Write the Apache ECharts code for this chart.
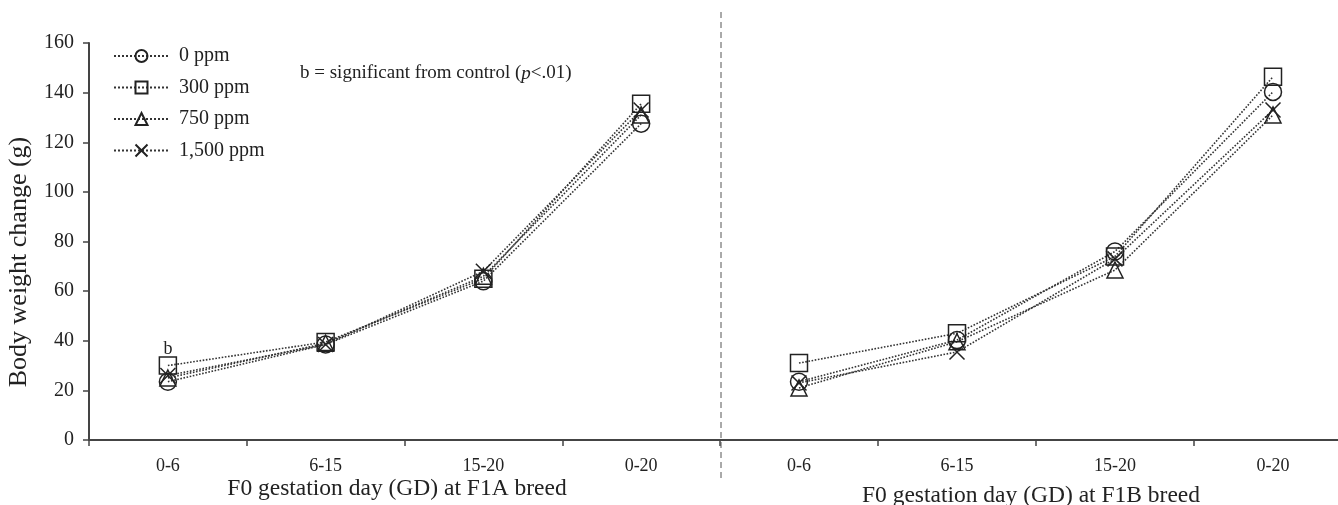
<!DOCTYPE html>
<html>
<head>
<meta charset="utf-8">
<script src="https://cdn.jsdelivr.net/npm/echarts@6/dist/echarts.min.js"></script>
<style>
  html, body { margin: 0; padding: 0; background: #fff; overflow: hidden; }
  #chart { width: 1338px; height: 505px; }
</style>
</head>
<body>
<div id="chart"></div>
<script>
// Gestation intervals (days)
const periods = ['0-6', '6-15', '15-20', '0-20'];
const yTicks = [0, 20, 40, 60, 80, 100, 120, 140, 160];

// Dose groups
const doses = ['0 ppm', '300 ppm', '750 ppm', '1,500 ppm'];

// Body weight change (g), F1A breeding
const f1a_0 = [23.5, 38.5, 64, 127.5];
const f1a_300 = [30, 39.5, 65, 135.5];
const f1a_750 = [25, 39, 66, 131];
const f1a_1500 = [26, 38.5, 68, 133];

// Body weight change (g), F1B breeding
const f1b_0 = [23.5, 40.3, 76, 140.3];
const f1b_300 = [31, 43, 74, 146.4];
const f1b_750 = [21, 39.6, 68.5, 131];
const f1b_1500 = [23, 35.5, 73, 133];

// Axis titles
const xTitles = ['F0 gestation day (GD) at F1A breed', 'F0 gestation day (GD) at F1B breed'];
const yTitle = 'Body weight change (g)';

const symbols = ['circle', 'rect', 'triangle', 'path://M0,0L10,10M10,0L0,10'];
const symbolSizes = [17, 17, 16, 15];

const serif = '"Liberation Serif", "DejaVu Serif", serif';
const ink = '#222';

function makeSeries(name, data, idx, axisIdx, withMark) {
  return {
    name: name,
    type: 'line',
    xAxisIndex: axisIdx,
    yAxisIndex: axisIdx,
    data: data.map((v, i) => {
      if (withMark && i === 0) {
        return {
          value: v,
          label: { show: true, position: 'top', distance: -2, formatter: 'b',
                   fontFamily: serif, fontSize: 18, color: ink }
        };
      }
      return v;
    }),
    symbol: symbols[idx],
    symbolSize: symbolSizes[idx],
    showAllSymbol: true,
    lineStyle: { type: 'dotted', width: 1.6, color: '#333' },
    itemStyle: { color: 'rgba(0,0,0,0)', borderColor: ink, borderWidth: 1.5 },
    emphasis: { disabled: true },
    z: 3
  };
}

const leftSets = [f1a_0, f1a_300, f1a_750, f1a_1500];
const rightSets = [f1b_0, f1b_300, f1b_750, f1b_1500];
const series = [];
doses.forEach((d, i) => series.push(makeSeries(d, leftSets[i], i, 0, i === 1)));
doses.forEach((d, i) => series.push(makeSeries(d, rightSets[i], i, 1, false)));

const axisLineStyle = { color: '#444', width: 2 };

const chart = echarts.init(document.getElementById('chart'), null, { renderer: 'canvas' });
chart.setOption({
  animation: false,
  backgroundColor: '#fff',
  grid: [
    { left: 89, top: 43, width: 631, height: 397, containLabel: false, outerBoundsMode: 'none' },
    { left: 720, top: 43, width: 632, height: 397, containLabel: false, outerBoundsMode: 'none' }
  ],
  legend: {
    orient: 'vertical',
    left: 113,
    top: 46,
    padding: 0,
    itemWidth: 55,
    itemHeight: 15,
    itemGap: 11.5,
    data: doses,
    textStyle: { fontFamily: serif, fontSize: 20, color: ink, padding: [0, 0, 0, 5] },
    selectedMode: false
  },
  xAxis: [0, 1].map(k => ({
    type: 'category',
    gridIndex: k,
    data: periods,
    boundaryGap: true,
    axisLine: { lineStyle: axisLineStyle },
    axisTick: { show: true, length: 6, lineStyle: { color: '#444', width: 1.5 } },
    axisLabel: { fontFamily: serif, fontSize: 18, color: ink, margin: 17 },
    splitLine: { show: false }
  })),
  yAxis: [0, 1].map(k => ({
    type: 'value',
    gridIndex: k,
    min: yTicks[0],
    max: yTicks[yTicks.length - 1],
    interval: 20,
    show: k === 0,
    axisLine: { show: true, lineStyle: axisLineStyle },
    axisTick: { show: true, inside: false, length: 6, lineStyle: { color: '#444', width: 1.5 } },
    axisLabel: { fontFamily: serif, fontSize: 20, color: ink, margin: 15 },
    splitLine: { show: false }
  })),
  graphic: [
    {
      type: 'line',
      shape: { x1: 721, y1: 12, x2: 721, y2: 482 },
      style: { stroke: '#555', lineWidth: 1, lineDash: [6, 4] },
      z: 1
    },
    {
      type: 'text',
      x: 19,
      y: 262,
      rotation: Math.PI / 2,
      style: {
        text: yTitle, fontFamily: serif, fontSize: 26, fill: ink,
        align: 'center', verticalAlign: 'middle'
      }
    },
    {
      type: 'text',
      x: 397,
      y: 489,
      style: {
        text: xTitles[0], fontFamily: serif, fontSize: 23.5, fill: ink,
        align: 'center', verticalAlign: 'middle'
      }
    },
    {
      type: 'text',
      x: 1031,
      y: 496,
      style: {
        text: xTitles[1], fontFamily: serif, fontSize: 23.5, fill: ink,
        align: 'center', verticalAlign: 'middle'
      }
    },
    {
      type: 'text',
      left: 300,
      top: 64,
      style: {
        text: '{n|b = significant from control (}{i|p}{n|<.01)}',
        rich: {
          n: { fontFamily: serif, fontSize: 19, fill: ink },
          i: { fontFamily: serif, fontSize: 19, fontStyle: 'italic', fill: ink }
        }
      }
    }
  ],
  series: series
});
</script>
</body>
</html>
